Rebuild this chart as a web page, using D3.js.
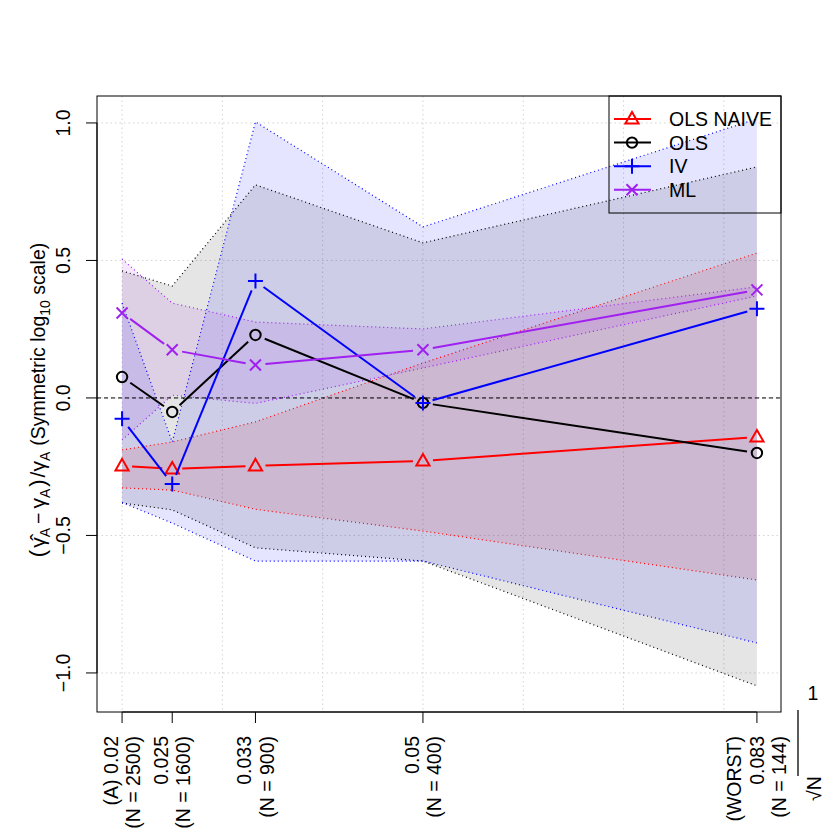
<!DOCTYPE html>
<html><head><meta charset="utf-8">
<script src="https://cdn.jsdelivr.net/npm/d3@7/dist/d3.min.js"></script>
<style>body{margin:0;background:#fff} text{font-family:"Liberation Sans",Arial,Helvetica,sans-serif}</style>
</head><body><svg id="c" width="830" height="830"></svg>
<script>
// ---- data ----
const xValues = [0.02, 0.025, 0.0333, 0.05, 0.0833];
const tickLabels = [
  ["(A) 0.02", "(N = 2500)"],
  ["0.025", "(N = 1600)"],
  ["0.033", "(N = 900)"],
  ["0.05", "(N = 400)"],
  ["(WORST)", "0.083", "(N = 144)"]
];
const yTicks = [-1, -0.5, 0, 0.5, 1];
const yTickLabels = ["\u22121.0", "\u22120.5", "0.0", "0.5", "1.0"];
const gridX = [0.02, 0.03, 0.04, 0.05, 0.06, 0.07, 0.08];
const seriesNames = ["OLS NAIVE", "OLS", "IV", "ML"];
const seriesColors = ["#FF0000", "#000000", "#0000FF", "#A020F0"];
const seriesShapes = ["triangle", "circle", "plus", "cross"];

const olsNaiveEst = [-0.247, -0.258, -0.247, -0.229, -0.142];
const olsNaiveLo  = [-0.327, -0.335, -0.405, -0.484, -0.662];
const olsNaiveHi  = [-0.189, -0.160, -0.087, 0.127, 0.527];

const olsEst = [0.076, -0.051, 0.229, -0.018, -0.200];
const olsLo  = [-0.382, -0.407, -0.545, -0.593, -1.047];
const olsHi  = [0.462, 0.407, 0.775, 0.564, 0.840];

const ivEst = [-0.076, -0.313, 0.425, -0.018, 0.324];
const ivLo  = [-0.380, -0.455, -0.593, -0.593, -0.891];
const ivHi  = [0.345, -0.160, 1.004, 0.622, 1.015];

const mlEst = [0.309, 0.175, 0.120, 0.175, 0.393];
const mlLo  = [-0.153, 0.010, -0.020, 0.109, 0.371];
const mlHi  = [0.505, 0.345, 0.276, 0.251, 0.404];

const estimates = [olsNaiveEst, olsEst, ivEst, mlEst];
const lows = [olsNaiveLo, olsLo, ivLo, mlLo];
const highs = [olsNaiveHi, olsHi, ivHi, mlHi];

// ---- layout ----
const L = 97, R = 781, T = 96, B = 712;
const svg = d3.select("#c");
const x = d3.scaleLinear().domain([0.0175, 0.0857]).range([L, R]);
const y = d3.scaleLinear().domain([-1.142, 1.098]).range([B, T]);
const FS = 19.5;

// grid
const g = svg.append("g");
g.selectAll("line.gx").data(gridX).join("line")
  .attr("x1", d => x(d)).attr("x2", d => x(d)).attr("y1", T).attr("y2", B)
  .attr("stroke", "#d3d3d3").attr("stroke-dasharray", "1.5,3").attr("stroke-width", 1);
g.selectAll("line.gy").data(yTicks).join("line")
  .attr("y1", d => y(d)).attr("y2", d => y(d)).attr("x1", L).attr("x2", R)
  .attr("stroke", "#d3d3d3").attr("stroke-dasharray", "1.5,3").attr("stroke-width", 1);

// bands
const area = d3.area().x((d, i) => x(xValues[i])).y0(d => y(d[0])).y1(d => y(d[1]));
const lineGen = d3.line().x((d, i) => x(xValues[i])).y(d => y(d));
seriesNames.forEach((n, s) => {
  const pts = xValues.map((_, i) => [lows[s][i], highs[s][i]]);
  svg.append("path").attr("d", area(pts)).attr("fill", seriesColors[s]).attr("fill-opacity", 0.1).attr("stroke", "none");
});
seriesNames.forEach((n, s) => {
  [lows[s], highs[s]].forEach(arr => {
    svg.append("path").attr("d", lineGen(arr)).attr("fill", "none")
      .attr("stroke", seriesColors[s]).attr("stroke-width", 1.2).attr("stroke-dasharray", "1,3");
  });
});

// zero line
svg.append("line").attr("x1", L).attr("x2", R).attr("y1", y(0)).attr("y2", y(0))
  .attr("stroke", "#000").attr("stroke-width", 1).attr("stroke-dasharray", "4,3");

// symbols
function symbol(sel, shape, cx, cy, col) {
  const gg = sel.append("g").attr("transform", `translate(${cx},${cy})`)
    .attr("fill", "none").attr("stroke", col).attr("stroke-width", 2);
  if (shape === "triangle") gg.append("path").attr("d", "M0,-7 L6.6,4.6 L-6.6,4.6 Z");
  else if (shape === "circle") gg.append("circle").attr("r", 5.2);
  else if (shape === "plus") gg.append("path").attr("d", "M-7.5,0 H7.5 M0,-7.5 V7.5");
  else gg.append("path").attr("d", "M-5.5,-5.5 L5.5,5.5 M-5.5,5.5 L5.5,-5.5");
}

// lines with gaps
const gap = 10;
seriesNames.forEach((n, s) => {
  const est = estimates[s];
  for (let i = 0; i < est.length - 1; i++) {
    const x1 = x(xValues[i]), y1 = y(est[i]), x2 = x(xValues[i + 1]), y2 = y(est[i + 1]);
    const len = Math.hypot(x2 - x1, y2 - y1);
    if (len <= 2 * gap) continue;
    const ux = (x2 - x1) / len, uy = (y2 - y1) / len;
    svg.append("line").attr("x1", x1 + ux * gap).attr("y1", y1 + uy * gap)
      .attr("x2", x2 - ux * gap).attr("y2", y2 - uy * gap)
      .attr("stroke", seriesColors[s]).attr("stroke-width", 2);
  }
  est.forEach((v, i) => symbol(svg, seriesShapes[s], x(xValues[i]), y(v), seriesColors[s]));
});

// box
svg.append("rect").attr("x", L).attr("y", T).attr("width", R - L).attr("height", B - T)
  .attr("fill", "none").attr("stroke", "#000").attr("stroke-width", 1);

// y axis
svg.append("line").attr("x1", L).attr("x2", L).attr("y1", y(-1)).attr("y2", y(1)).attr("stroke", "#000");
yTicks.forEach((t, i) => {
  svg.append("line").attr("x1", L - 11).attr("x2", L).attr("y1", y(t)).attr("y2", y(t)).attr("stroke", "#000");
  svg.append("text").attr("transform", `translate(${L - 27},${y(t)}) rotate(-90)`)
    .attr("text-anchor", "middle").attr("font-size", FS).text(yTickLabels[i]);
});

// x axis ticks
const lineH = 22.5;
xValues.forEach((v, i) => {
  const px = x(v);
  svg.append("line").attr("x1", px).attr("x2", px).attr("y1", B).attr("y2", B + 11).attr("stroke", "#000");
  const lines = tickLabels[i];
  const n = lines.length;
  lines.forEach((t, k) => {
    const cx = px + (k - (n - 1) / 2) * lineH + 7;
    svg.append("text").attr("transform", `translate(${cx},${B + 24}) rotate(-90)`)
      .attr("text-anchor", "end").attr("font-size", FS).text(t);
  });
});
svg.append("line").attr("x1", x(xValues[0])).attr("x2", x(xValues[xValues.length - 1]))
  .attr("y1", B).attr("y2", B).attr("stroke", "#000");

// y axis title
const yt = svg.append("text").attr("transform", `translate(45,${y(0) + 2}) rotate(-90)`)
  .attr("text-anchor", "middle").attr("font-size", FS);
yt.append("tspan").attr("font-size", 22).text("(");
yt.append("tspan").attr("dx", 2).attr("font-size", 21).text("\u03B3\u0302");
yt.append("tspan").attr("font-size", 14).attr("dy", 5).text("A");
yt.append("tspan").attr("dy", -5).attr("dx", 4).text("\u2212");
yt.append("tspan").attr("dx", 4).attr("font-size", 21).text("\u03B3");
yt.append("tspan").attr("font-size", 14).attr("dy", 5).text("A");
yt.append("tspan").attr("dy", -5).attr("font-size", 22).attr("dx", 2).text(")");
yt.append("tspan").attr("dx", 2).attr("font-size", 21).text("/\u03B3");
yt.append("tspan").attr("font-size", 14).attr("dy", 5).text("A");
yt.append("tspan").attr("dy", -5).attr("dx", 6).text("(Symmetric log");
yt.append("tspan").attr("font-size", 14).attr("dy", 5).text("10");
yt.append("tspan").attr("dy", -5).text(" scale)");

// x axis title 1/sqrt(N)
svg.append("text").attr("x", 813).attr("y", 700).attr("text-anchor", "middle").attr("font-size", FS).text("1");
svg.append("line").attr("x1", 798).attr("x2", 798).attr("y1", 710).attr("y2", 776).attr("stroke", "#000").attr("stroke-width", 1.3);
const sq = svg.append("g").attr("transform", "translate(821,801) rotate(-90)");
sq.append("text").attr("x", 0).attr("y", 0).attr("font-size", FS).text("\u221AN");

// legend
const lg = svg.append("g");
lg.append("rect").attr("x", 609).attr("y", T).attr("width", R - 609).attr("height", 117)
  .attr("fill", "none").attr("stroke", "#000");
seriesNames.forEach((n, s) => {
  const ry = 119 + s * 23.6;
  lg.append("line").attr("x1", 614).attr("x2", 651).attr("y1", ry).attr("y2", ry)
    .attr("stroke", seriesColors[s]).attr("stroke-width", 2);
  symbol(lg, seriesShapes[s], 632, ry, seriesColors[s]);
  lg.append("text").attr("x", 669).attr("y", ry + 7).attr("font-size", FS).text(n);
});
</script></body></html>
